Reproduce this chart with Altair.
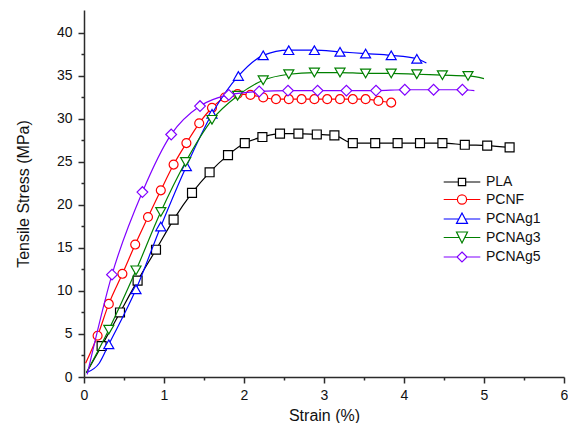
import altair as alt
import pandas as pd

series = ["PLA", "PCNF", "PCNAg1", "PCNAg3", "PCNAg5"]
colors = ["#000000", "#FF0000", "#0000FF", "#008000", "#8000FF"]
shapes = ["square", "circle", "triangle-up", "triangle-down", "diamond"]
sizes = [80, 80, 100, 100, 115]

# legend symbols: line with the marker in the middle (unit = 5 px)
legend_paths = [
    "M-3.66,0H-0.73M0.73,0H3.66M-0.73,-0.73H0.73V0.73H-0.73Z",
    "M-3.66,0H-0.92M0.92,0H3.66M0.92,0A0.92,0.92,0,1,1,-0.92,0A0.92,0.92,0,1,1,0.92,0Z",
    "M-3.66,0H-0.66M0.66,0H3.66M0,-1.2L1.1,0.88H-1.1Z",
    "M-3.66,0H-0.55M0.55,0H3.66M0,1.1L1.1,-1.1H-1.1Z",
    "M-3.66,0H-1M1,0H3.66M0,-1L1,0L0,1L-1,0Z",
]

pla_x = [0.03, 0.22, 0.45, 0.67, 0.90, 1.12, 1.35, 1.57, 1.80, 2.01, 2.23, 2.45, 2.68, 2.91, 3.13, 3.36, 3.64, 3.92, 4.20, 4.48, 4.76, 5.04, 5.32]
pla_y = [0.5, 3.6, 7.5, 11.2, 14.8, 18.3, 21.4, 23.8, 25.8, 27.2, 27.9, 28.3, 28.3, 28.2, 28.1, 27.2, 27.2, 27.2, 27.2, 27.2, 27.0, 26.9, 26.7]

pcnf_x = [0.02, 0.17, 0.31, 0.48, 0.64, 0.80, 0.96, 1.12, 1.28, 1.44, 1.60, 1.76, 1.92, 2.08, 2.24, 2.40, 2.56, 2.72, 2.88, 3.04, 3.20, 3.36, 3.52, 3.68, 3.84]
pcnf_y = [1.6, 4.8, 8.5, 12.0, 15.4, 18.6, 21.7, 24.7, 27.2, 29.5, 31.3, 32.5, 32.9, 32.8, 32.5, 32.3, 32.3, 32.3, 32.3, 32.3, 32.3, 32.3, 32.3, 32.1, 31.9]

ag1_x = [0.03, 0.19, 0.31, 0.65, 0.96, 1.28, 1.60, 1.93, 2.24, 2.56, 2.88, 3.20, 3.52, 3.84, 4.16, 4.28]
ag1_y = [0.5, 1.6, 3.8, 10.2, 17.5, 24.5, 30.6, 35.0, 37.4, 38.0, 38.0, 37.8, 37.6, 37.4, 37.0, 36.5]

ag3_x = [0.03, 0.31, 0.65, 0.96, 1.27, 1.60, 1.92, 2.24, 2.56, 2.88, 3.20, 3.52, 3.84, 4.16, 4.48, 4.80, 5.00]
ag3_y = [0.5, 5.5, 12.4, 19.2, 25.0, 29.9, 32.7, 34.5, 35.2, 35.4, 35.4, 35.3, 35.3, 35.2, 35.1, 35.0, 34.7]

ag5_x = [0.04, 0.35, 0.73, 1.09, 1.45, 1.81, 2.19, 2.55, 2.92, 3.28, 3.65, 4.01, 4.37, 4.73, 4.88]
ag5_y = [0.3, 11.9, 21.5, 28.2, 31.5, 32.8, 33.2, 33.3, 33.3, 33.3, 33.3, 33.4, 33.4, 33.4, 33.3]

# which points carry a marker (first index, last index exclusive)
marker_range = {"PLA": (1, 23), "PCNF": (1, 25), "PCNAg1": (2, 15), "PCNAg3": (1, 16), "PCNAg5": (1, 14)}

x_ticks = [0, 0.5, 1, 1.5, 2, 2.5, 3, 3.5, 4, 4.5, 5, 5.5, 6]
y_ticks = [0, 2.5, 5, 7.5, 10, 12.5, 15, 17.5, 20, 22.5, 25, 27.5, 30, 32.5, 35, 37.5, 40]

xs = [pla_x, pcnf_x, ag1_x, ag3_x, ag5_x]
ys = [pla_y, pcnf_y, ag1_y, ag3_y, ag5_y]
rows = []
for name, sx, sy in zip(series, xs, ys):
    a, b = marker_range[name]
    for i, (vx, vy) in enumerate(zip(sx, sy)):
        rows.append({"series": name, "strain": vx, "stress": vy, "idx": i, "m": 1 if a <= i < b else 0})
df = pd.DataFrame(rows)

FONT = "Liberation Sans"
AX = "#2b2b2b"

x_scale = alt.Scale(domain=[0, 6], nice=False, zero=False)
y_scale = alt.Scale(domain=[0, 42.67], nice=False, zero=False)
c_scale = alt.Scale(domain=series, range=colors)

x_axis = alt.Axis(
    title="Strain (%)", values=x_ticks, grid=False,
    labelExpr="datum.value % 1 === 0 ? format(datum.value, 'd') : ''",
    tickSize={"condition": {"test": "datum.value % 1 !== 0", "value": 3}, "value": 6},
    tickWidth=1.5, domainWidth=1.5, domainColor=AX, tickColor=AX,
    labelFont=FONT, labelFontSize=14, labelColor="#111", labelPadding=5, labelFlush=False,
    titleFont=FONT, titleFontSize=16, titleFontWeight="normal", titleColor="#111", titlePadding=5,
)
y_axis = alt.Axis(
    title="Tensile Stress (MPa)", values=y_ticks, grid=False,
    labelExpr="datum.value % 5 === 0 ? format(datum.value, 'd') : ''",
    tickSize={"condition": {"test": "datum.value % 5 !== 0", "value": 3}, "value": 6},
    tickWidth=1.5, domainWidth=1.5, domainColor=AX, tickColor=AX,
    labelFont=FONT, labelFontSize=14, labelColor="#111", labelPadding=6, labelFlush=False,
    titleFont=FONT, titleFontSize=16, titleFontWeight="normal", titleColor="#111", titlePadding=25,
)
leg = alt.Legend(
    title=None, orient="none", legendX=371, legendY=165,
    symbolSize=100, symbolStrokeWidth=1.2, labelFont=FONT, labelFontSize=14,
    labelColor="#111", labelOffset=17, rowPadding=3.5, padding=0,
)

enc_x = alt.X("strain:Q", scale=x_scale, axis=x_axis, title="Strain (%)")
enc_y = alt.Y("stress:Q", scale=y_scale, axis=y_axis, title="Tensile Stress (MPa)")
enc_c = alt.Color("series:N", scale=c_scale, legend=leg)

base = alt.Chart(df)
layers = []
for k, (name, shp, sz) in enumerate(zip(series, shapes, sizes)):
    sel = base.transform_filter(alt.datum.series == name)
    line = sel.mark_line(interpolate="monotone", strokeWidth=1.2).encode(
        x=enc_x, y=enc_y, order="idx:Q", color=enc_c,
    )
    pts = sel.transform_filter(alt.datum.m == 1).mark_point(
        shape=shp, size=sz, filled=False, fill="white", opacity=1, strokeWidth=1.2
    ).encode(x=enc_x, y=enc_y, color=enc_c)
    layers += [line, pts]

leg_df = pd.DataFrame({"series": series, "strain": [-1.0] * 5, "stress": [-1.0] * 5})
legend_layer = alt.Chart(leg_df).mark_point(filled=False, clip=True, opacity=1, strokeWidth=1.2).encode(
    x=enc_x, y=enc_y, color=enc_c,
    shape=alt.Shape("series:N", scale=alt.Scale(domain=series, range=legend_paths), legend=leg),
)
layers.append(legend_layer)

chart = alt.layer(*layers).properties(
    width=480, height=367,
    padding={"left": 7, "top": 2, "right": 0, "bottom": 0},
    background="white",
).configure_view(stroke=None)

chart.save("out.html", embed_options={"renderer": "svg", "actions": False})
